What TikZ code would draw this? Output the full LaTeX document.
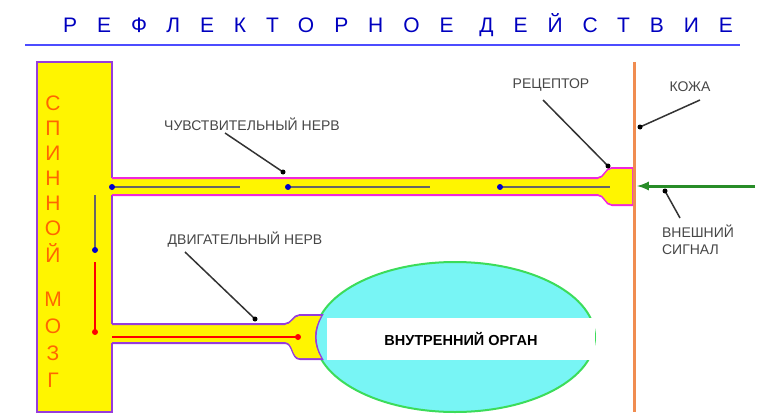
\documentclass[tikz,border=0pt]{standalone}
\usepackage{fontspec}
\setmainfont{Liberation Sans}
\newfontfamily\titlefont[LetterSpace=95]{Liberation Sans}
\definecolor{cordyellow}{RGB}{255,245,0}
\definecolor{cordviolet}{RGB}{150,60,220}
\definecolor{nervepink}{RGB}{240,40,220}
\definecolor{skinorange}{RGB}{240,140,80}
\definecolor{organcyan}{RGB}{120,245,245}
\definecolor{organgreen}{RGB}{60,220,90}
\definecolor{signalgreen}{RGB}{40,140,40}
\definecolor{labelgray}{RGB}{70,70,70}
\tikzset{
  lbl/.style={text=labelgray, font=\fontsize{14}{17}\selectfont},
  pointer/.style={black!80, line width=1.5pt},
  fibre/.style={gray!80!black, line width=1.5pt},
  cordletter/.style={text=orange!80!red, font=\fontsize{21}{21}\selectfont}
}
\begin{document}
\begin{tikzpicture}[x=1pt,y=-1pt]
  \useasboundingbox (0,0) rectangle (768,420);
  \node (title) at (398,25) {\titlefont\color{blue!75!black}\fontsize{21}{21}\selectfont РЕФЛЕКТОРНОЕ ДЕЙСТВИЕ};
  \draw [blue!70, line width=2.5pt] (25,45) -- (740,45);
  % spinal cord
  \draw [fill=cordyellow, draw=cordviolet, line width=2pt] (37,62) rectangle (112,412);
  \foreach \ch [count=\i] in {С,П,И,Н,Н,О,Й}
    \node [cordletter] (c\i) at (53,78+25*\i) {\ch};
  \foreach \ch [count=\i] in {М,О,З,Г}
    \node [cordletter] (m\i) at (53,272+27*\i) {\ch};
  % sensory nerve and receptor
  \fill [cordyellow] (108,178) rectangle (604,195);
  \draw [nervepink, line width=2pt] (112,178) -- (598,178) to[out=0,in=180] (612,168) -- (633,168) -- (633,205) -- (612,205) to[out=180,in=0] (598,195) -- (112,195);
  \fill [cordyellow] (598,179) to[out=0,in=180] (612,169) -- (632,169) -- (632,204) -- (612,204) to[out=180,in=0] (598,194) -- cycle;
  \coordinate (s1) at (112,187); \coordinate (s1e) at (240,187);
  \coordinate (s2) at (288,187); \coordinate (s2e) at (430,187);
  \coordinate (s3) at (500,187); \coordinate (s3e) at (610,187);
  \draw [fibre] (s1) -- (s1e);
  \draw [fibre] (s2) -- (s2e);
  \draw [fibre] (s3) -- (s3e);
  \foreach \p in {s1,s2,s3}
    \fill [blue!80!black] (\p) circle (3);
  % inner cord fibres
  \coordinate (v1) at (95,195); \coordinate (v2) at (95,250);
  \coordinate (v3) at (95,262); \coordinate (v4) at (95,332);
  \draw [fibre] (v1) -- (v2);
  \fill [blue!80!black] (v2) circle (3);
  \draw [red, line width=1.5pt] (v3) -- (v4);
  \fill [red] (v4) circle (3);
  % motor nerve and organ
  \draw [fill=organcyan, draw=organgreen, line width=2pt] (455,337) ellipse (140 and 75);
  \fill [cordyellow] (108,324) rectangle (290,343);
  \draw [cordviolet, line width=2pt] (112,324) -- (285,324) to[out=0,in=180] (300,315) -- (322,315) to[out=-120,in=120] (322,359) -- (300,359) to[out=180,in=0] (285,343) -- (112,343);
  \fill [cordyellow] (285,325) to[out=0,in=180] (300,316) -- (321,316) to[out=-120,in=120] (321,358) -- (300,358) to[out=180,in=0] (285,342) -- cycle;
  \coordinate (r1) at (112,337); \coordinate (r2) at (298,337);
  \draw [red, line width=1.5pt] (r1) -- (r2);
  \fill [red] (r2) circle (3);
  \node [fill=white, minimum width=268pt, minimum height=42pt, font=\bfseries\fontsize{14.5}{17}\selectfont] (organ) at (461,339) {ВНУТРЕННИЙ ОРГАН};
  % skin and signal
  \coordinate (skin1) at (634,62); \coordinate (skin2) at (634,412);
  \draw [skinorange, line width=3pt] (skin1) -- (skin2);
  \coordinate (sig1) at (755,186); \coordinate (sig2) at (637,186);
  \draw [signalgreen, line width=3pt, -latex] (sig1) -- (sig2);
  % labels
  \node [lbl] (sens) at (252,124) {ЧУВСТВИТЕЛЬНЫЙ НЕРВ};
  \node [lbl] (mot) at (245,240) {ДВИГАТЕЛЬНЫЙ НЕРВ};
  \node [lbl] (rec) at (551,85) {РЕЦЕПТОР};
  \node [lbl] (kozha) at (690,87) {КОЖА};
  \node [lbl, align=left] (ext) at (698,240) {ВНЕШНИЙ\\СИГНАЛ};
  \coordinate (ps) at (283,172); \coordinate (pm) at (255,319);
  \coordinate (pr) at (608,166); \coordinate (pk) at (640,127);
  \coordinate (pe) at (665,191);
  \draw [pointer] (225,133) -- (ps); \fill (ps) circle (2.5);
  \draw [pointer] (185,252) -- (pm); \fill (pm) circle (2.5);
  \draw [pointer] (543,100) -- (pr); \fill (pr) circle (2.5);
  \draw [pointer] (700,100) -- (pk); \fill (pk) circle (2.5);
  \draw [pointer] (680,218) -- (pe); \fill (pe) circle (2.5);
\end{tikzpicture}
\end{document}
